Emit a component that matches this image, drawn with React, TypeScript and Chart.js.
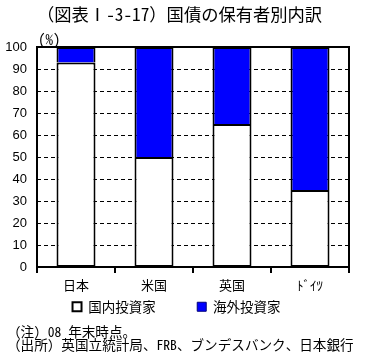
import React, { useEffect, useRef } from "react";
import { Chart, registerables } from "chart.js";

Chart.register(...registerables);

const categories = ["日本", "米国", "英国", "ﾄﾞｲﾂ"];
const domestic = [93, 50, 65, 35];
const foreign = [7, 50, 35, 65];
const seriesNames = ["国内投資家", "海外投資家"];
const yTicks = [0, 10, 20, 30, 40, 50, 60, 70, 80, 90, 100];
const titleText = "（図表Ⅰ-3-17）国債の保有者別内訳";
const unitText = "(%)";
const notes = ["（注）08 年末時点。", "（出所）英国立統計局、FRB、ブンデスバンク、日本銀行"];

const JP = '"Noto Sans Mono CJK JP", "Noto Sans CJK JP", sans-serif';
const NUM = '"Liberation Sans", Arial, sans-serif';

const textPlugin = {
  id: "textPlugin",
  beforeDatasetsDraw(chart: any) {
    const { ctx, chartArea, scales } = chart;
    const y = scales.y;
    ctx.save();
    ctx.strokeStyle = "#000";
    ctx.lineWidth = 1;
    ctx.setLineDash([4, 3]);
    yTicks.forEach((v) => {
      if (v === 0 || v === 100) return;
      const py = Math.round(y.getPixelForValue(v)) + 0.5;
      ctx.beginPath();
      ctx.moveTo(chartArea.left, py);
      ctx.lineTo(chartArea.right, py);
      ctx.stroke();
    });
    ctx.restore();
  },
  afterDatasetsDraw(chart: any) {
    const { ctx, chartArea, scales } = chart;
    const x = scales.x;
    ctx.save();
    ctx.strokeStyle = "#000";
    ctx.lineWidth = 2;
    ctx.strokeRect(chartArea.left, chartArea.top, chartArea.right - chartArea.left, chartArea.bottom - chartArea.top);
    const bounds: number[] = [chartArea.left];
    for (let i = 1; i < categories.length; i++) {
      bounds.push((x.getPixelForValue(i - 1) + x.getPixelForValue(i)) / 2);
    }
    bounds.push(chartArea.right);
    bounds.forEach((bx) => {
      ctx.beginPath();
      ctx.moveTo(bx, chartArea.bottom);
      ctx.lineTo(bx, chartArea.bottom + 6);
      ctx.stroke();
    });
    ctx.restore();
  },
  afterDraw(chart: any) {
    const { ctx, chartArea } = chart;
    ctx.save();
    ctx.fillStyle = "#000";
    ctx.textBaseline = "middle";
    ctx.textAlign = "left";
    ctx.font = `17.3px ${JP}`;
    ctx.fillText(titleText, 37, 14);
    ctx.font = `15px ${JP}`;
    ctx.fillText(unitText, chartArea.left + 1, 39.5);
    ctx.font = `13.6px ${JP}`;
    ctx.fillText(notes[0], 7, 332);
    ctx.fillText(notes[1], 7, 344.5);
    ctx.restore();
  },
};

function ChartView() {
  const ref = useRef<HTMLCanvasElement | null>(null);
  useEffect(() => {
    if (!ref.current) return;
    const chart = new Chart(ref.current, {
      type: "bar",
      data: {
        labels: categories,
        datasets: [
          {
            label: seriesNames[0],
            data: domestic,
            backgroundColor: "#ffffff",
            borderColor: "#000000",
            borderWidth: 2,
            borderSkipped: false,
            categoryPercentage: 0.5,
            barPercentage: 1,
          },
          {
            label: seriesNames[1],
            data: foreign,
            backgroundColor: "#0000ff",
            borderColor: "#000000",
            borderWidth: 2,
            borderSkipped: "start",
            categoryPercentage: 0.5,
            barPercentage: 1,
          },
        ],
      },
      options: {
        responsive: false,
        animation: false,
        layout: { padding: { top: 47, left: 4, right: 16, bottom: 39.5 } },
        plugins: {
          title: { display: false },
          tooltip: { enabled: false },
          legend: {
            position: "bottom",
            labels: {
              boxWidth: 9,
              boxHeight: 9,
              padding: 5,
              color: "#000",
              font: { family: JP, size: 13.5 },
              generateLabels: () => [
                { text: seriesNames[0] + "　　 \u2009", fillStyle: "#ffffff", strokeStyle: "#000000", lineWidth: 2, datasetIndex: 0, hidden: false },
                { text: seriesNames[1], fillStyle: "#0000ff", strokeStyle: "#00007a", lineWidth: 1, datasetIndex: 1, hidden: false },
              ],
            },
          },
        },
        scales: {
          x: {
            stacked: true,
            offset: true,
            afterFit: (s: any) => {
              s.height = 28;
            },
            border: { display: false },
            grid: { display: false, drawTicks: false, tickLength: 0 },
            ticks: {
              color: "#000",
              padding: 10,
              font: { family: JP, size: 13 },
            },
          },
          y: {
            stacked: true,
            min: 0,
            max: 100,
            afterFit: (s: any) => {
              s.width = 33;
            },
            afterBuildTicks: (s: any) => {
              s.ticks = yTicks.map((v) => ({ value: v }));
            },
            border: { display: false },
            grid: { display: false, drawTicks: false },
            ticks: {
              color: "#000",
              padding: 10,
              font: { family: NUM, size: 13 },
            },
          },
        },
      },
      plugins: [textPlugin],
    });
    return () => chart.destroy();
  }, []);
  return <canvas ref={ref} width={365} height={363} style={{ width: 365, height: 363, display: "block" }} />;
}

export default function App() {
  return (
    <div style={{ position: "absolute", left: 0, top: 0, width: 365, height: 363, background: "#fff" }}>
      <ChartView />
    </div>
  );
}
